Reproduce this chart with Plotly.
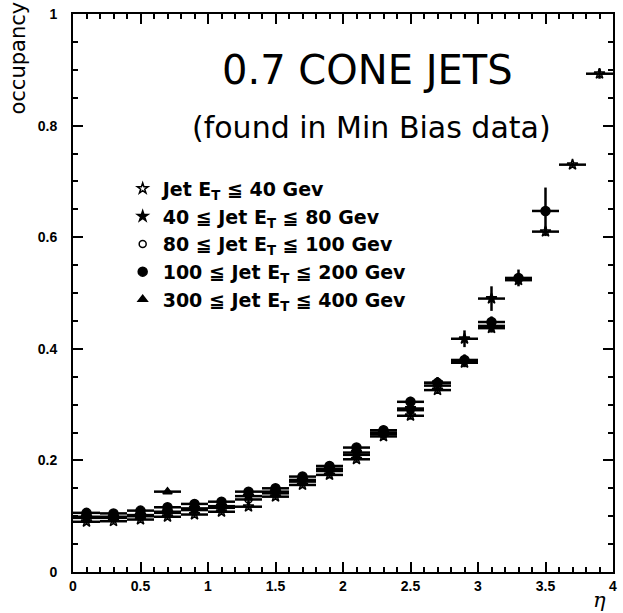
import plotly.graph_objects as go

# pseudorapidity bin centres (bin width 0.2)
eta = [0.1, 0.3, 0.5, 0.7, 0.9, 1.1, 1.3, 1.5, 1.7, 1.9,
       2.1, 2.3, 2.5, 2.7, 2.9, 3.1, 3.3, 3.5, 3.7, 3.9]
eta_halfwidth = 0.1

# occupancy per jet E_T bin
occ_et_le40 = [0.090, 0.091, 0.094, 0.099, 0.103, 0.108, 0.117, 0.135, 0.156, 0.174,
               0.202, 0.243, 0.280, 0.326, 0.375, 0.437, 0.523, 0.610, 0.730, 0.893]
err_et_le40 = [0.004, 0.004, 0.004, 0.004, 0.004, 0.005, 0.005, 0.005, 0.005, 0.006,
               0.006, 0.006, 0.007, 0.007, 0.008, 0.008, 0.008, 0.008, 0.004, 0.009]

occ_et_40_80 = [0.099, 0.099, 0.102, 0.108, 0.114, 0.118, 0.136, 0.144, 0.165, 0.185,
                0.214, 0.250, 0.293, 0.339, 0.418, 0.490, None, None, None, None]
err_et_40_80 = [0.005, 0.005, 0.005, 0.005, 0.006, 0.006, 0.006, 0.006, 0.007, 0.007,
                0.008, 0.008, 0.009, 0.009, 0.015, 0.022, 0, 0, 0, 0]

occ_et_80_100 = [0.097, 0.097, 0.100, 0.106, 0.111, 0.115, 0.130, 0.141, 0.162, 0.181,
                 0.210, 0.247, 0.290, 0.334, 0.378, 0.441, None, None, None, None]
err_et_80_100 = [0.005, 0.005, 0.005, 0.005, 0.006, 0.006, 0.006, 0.006, 0.007, 0.007,
                 0.008, 0.008, 0.009, 0.009, 0.010, 0.010, 0, 0, 0, 0]

occ_et_100_200 = [0.106, 0.105, 0.110, 0.116, 0.122, 0.126, 0.144, 0.150, 0.171, 0.190,
                  0.223, 0.254, 0.305, 0.339, 0.380, 0.448, 0.527, 0.647, None, None]
err_et_100_200 = [0.006, 0.006, 0.006, 0.006, 0.006, 0.007, 0.007, 0.007, 0.007, 0.008,
                  0.008, 0.008, 0.009, 0.010, 0.010, 0.010, 0.015, 0.042, 0, 0]

occ_et_300_400 = [None, None, None, 0.144, None, None, None, None, None, None,
                  None, None, None, None, None, None, None, None, None, None]
err_et_300_400 = [0, 0, 0, 0.004, 0, 0, 0, 0, 0, 0,
                  0, 0, 0, 0, 0, 0, 0, 0, 0, 0]

series = [
    ("Jet E<sub>T</sub> ≦ 40 Gev", occ_et_le40, err_et_le40, "star-open", 8),
    ("40 ≦ Jet E<sub>T</sub> ≦ 80 Gev", occ_et_40_80, err_et_40_80, "star", 8),
    ("80 ≦ Jet E<sub>T</sub> ≦ 100 Gev", occ_et_80_100, err_et_80_100, "circle-open", 7),
    ("100 ≦ Jet E<sub>T</sub> ≦ 200 Gev", occ_et_100_200, err_et_100_200, "circle", 9),
    ("300 ≦ Jet E<sub>T</sub> ≦ 400 Gev", occ_et_300_400, err_et_300_400, "triangle-up", 8),
]

fig = go.Figure()
for name, occ, err, symbol, size in series:
    fig.add_trace(go.Scatter(
        x=eta, y=occ, name=name, mode="markers",
        marker=dict(symbol=symbol, size=size, color="black",
                    line=dict(color="black", width=1.5)),
        error_x=dict(type="constant", value=eta_halfwidth, color="black",
                     thickness=2.5, width=0),
        error_y=dict(type="data", array=err, color="black",
                     thickness=2.5, width=0),
    ))

axis_common = dict(
    showline=True, linecolor="black", linewidth=2, mirror="ticks",
    ticks="inside", ticklen=10, tickwidth=2, tickcolor="black",
    showgrid=False, zeroline=False,
    tickfont=dict(family="Liberation Sans", size=14, color="black", weight="bold"),
)

fig.update_xaxes(range=[0, 4], dtick=0.5, tick0=0,
                 minor=dict(dtick=0.1, ticks="inside", ticklen=5, tickwidth=1.5,
                            tickcolor="black"),
                 **axis_common)
fig.update_yaxes(range=[0, 1], dtick=0.2, tick0=0, ticklabelstandoff=11,
                 minor=dict(dtick=0.05, ticks="inside", ticklen=5, tickwidth=1.5,
                            tickcolor="black"),
                 **axis_common)

text_font = "DejaVu Sans"
fig.add_annotation(text="0.7 CONE JETS", xref="paper", yref="paper",
                   x=0.546, y=0.90, xanchor="center", yanchor="middle",
                   showarrow=False,
                   font=dict(family=text_font, size=40, color="black"))
fig.add_annotation(text="(found in Min Bias data)", xref="paper", yref="paper",
                   x=0.553, y=0.797, xanchor="center", yanchor="middle",
                   showarrow=False,
                   font=dict(family=text_font, size=30, color="black"))
fig.add_annotation(text="occupancy", xref="paper", yref="paper",
                   x=-0.101, y=0.921, xanchor="center", yanchor="middle",
                   textangle=-90, showarrow=False,
                   font=dict(family=text_font, size=21, color="black"))
fig.add_annotation(text="η", xref="paper", yref="paper",
                   x=0.975, y=-0.05, xanchor="center", yanchor="middle",
                   showarrow=False,
                   font=dict(family="DejaVu Serif", size=21, color="black",
                             style="italic"))

fig.update_layout(
    width=623, height=613,
    margin=dict(l=73, r=6, t=14, b=41),
    paper_bgcolor="white", plot_bgcolor="white",
    showlegend=True,
    legend=dict(x=0.092, y=0.721, xanchor="left", yanchor="top",
                bgcolor="rgba(0,0,0,0)", borderwidth=0,
                font=dict(family=text_font, size=19, color="black", weight="bold"),
                itemwidth=30, tracegroupgap=0),
)

fig.write_html("out.html")
